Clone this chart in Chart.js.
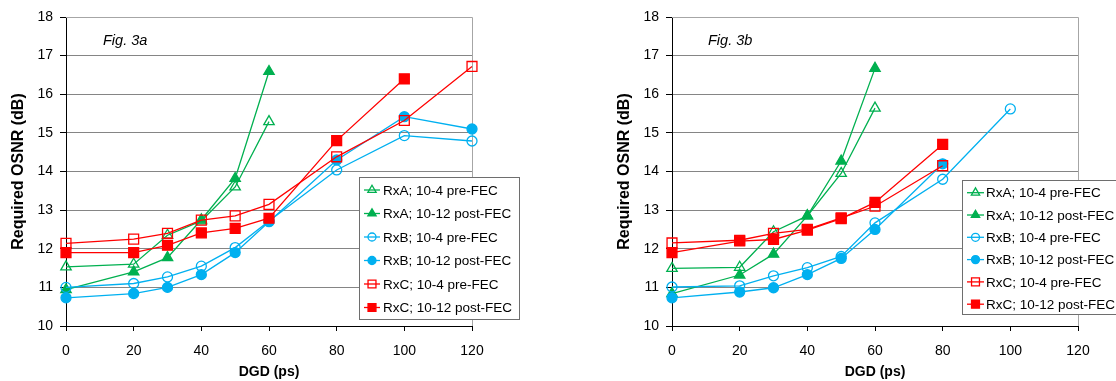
<!DOCTYPE html>
<html>
<head>
<meta charset="utf-8">
<script src="https://cdn.jsdelivr.net/npm/chart.js@4.4.0/dist/chart.umd.min.js"></script>
<style>
  body { margin: 0; background: #fff; width: 1116px; height: 381px; overflow: hidden; position: relative; }
  canvas { position: absolute; top: 0; }
  #chart3a { left: 0; }
  #chart3b { left: 590px; }
</style>
</head>
<body>
<canvas id="chart3a" width="560" height="381"></canvas>
<canvas id="chart3b" width="526" height="381"></canvas>
<script>
// DGD values (ps) where points were measured
const dgd = [0, 20, 30, 40, 50, 60, 80, 100, 120];

const seriesNames = [
    'RxA; 10-4 pre-FEC',
    'RxA; 10-12 post-FEC',
    'RxB; 10-4 pre-FEC',
    'RxB; 10-12 post-FEC',
    'RxC; 10-4 pre-FEC',
    'RxC; 10-12 post-FEC'
];

// Fig. 3a - required OSNR (dB)
const rxAPreA  = [11.53, 11.60, 12.35, 12.72, 13.60, 15.29, null, null, null];
const rxAPostA = [10.94, 11.40, 11.77, 12.75, 13.82, 16.59, null, null, null];
const rxBPreA  = [11.00, 11.10, 11.27, 11.55, 12.03, 12.72, 14.04, 14.93, 14.79];
const rxBPostA = [10.73, 10.84, 11.00, 11.33, 11.90, 12.70, 14.30, 15.42, 15.10];
const rxCPreA  = [12.14, 12.25, 12.40, 12.74, 12.85, 13.15, 14.38, 15.32, 16.72];
const rxCPostA = [11.90, 11.90, 12.09, 12.41, 12.53, 12.79, 14.80, 16.40, null];

// Fig. 3b - required OSNR (dB)
const rxAPreB  = [11.49, 11.52, 12.44, 12.85, 13.95, 15.64, null, null, null];
const rxAPostB = [10.84, 11.32, 11.86, 12.85, 14.27, 16.67, null, null, null];
const rxBPreB  = [11.01, 11.04, 11.30, 11.51, 11.80, 12.67, 13.80, 15.62, null];
const rxBPostB = [10.73, 10.88, 10.99, 11.33, 11.75, 12.50, 14.20, null, null];
const rxCPreB  = [12.15, 12.22, 12.40, 12.50, 12.80, 13.10, 14.15, null, null];
const rxCPostB = [11.90, 12.20, 12.24, 12.48, 12.78, 13.20, 14.70, null, null];

const FONT = "'Liberation Sans', Arial, sans-serif";
const colors  = ['#00B050', '#00B050', '#00B0F0', '#00B0F0', '#FF0000', '#FF0000'];
const markers = ['triangle', 'triangle', 'circle', 'circle', 'rect', 'rect'];
const filled  = [false, true, false, true, false, true];
const markerSize = { triangle: 6, circle: 5, rect: 7 };

function toPoints(values) {
    const pts = [];
    values.forEach((v, i) => {
        if (v !== null) pts.push({ x: dgd[i], y: v });
    });
    return pts;
}

function buildDatasets(seriesList) {
    return seriesList.map((values, i) => ({
        label: seriesNames[i],
        data: toPoints(values),
        borderColor: colors[i],
        backgroundColor: filled[i] ? colors[i] : 'rgba(0,0,0,0)',
        borderWidth: 1.3,
        pointStyle: markers[i],
        pointRadius: markerSize[markers[i]],
        pointBorderWidth: 1.3,
        tension: 0,
        clip: false,
        order: seriesList.length - i   // later series on top, like Excel
    }));
}

// draws a small marker, used by the legend
function drawMarker(ctx, style, x, y, r, color, fill) {
    ctx.beginPath();
    if (style === 'triangle') {
        ctx.moveTo(x, y - r);
        ctx.lineTo(x + r * 0.866, y + r * 0.5);
        ctx.lineTo(x - r * 0.866, y + r * 0.5);
        ctx.closePath();
    } else if (style === 'circle') {
        ctx.arc(x, y, r, 0, Math.PI * 2);
    } else {
        const s = r * Math.SQRT1_2;
        ctx.rect(x - s, y - s, 2 * s, 2 * s);
    }
    if (fill) {
        ctx.fillStyle = color;
        ctx.fill();
    }
    ctx.strokeStyle = color;
    ctx.lineWidth = 1.3;
    ctx.stroke();
}

const boxLegend = {
    id: 'boxLegend',
    afterDraw(chart, args, opts) {
        const ctx = chart.ctx;
        ctx.save();
        ctx.fillStyle = '#fff';
        ctx.fillRect(opts.x, opts.y, opts.w, opts.h);
        ctx.strokeStyle = '#6e6e6e';
        ctx.lineWidth = 1;
        ctx.strokeRect(opts.x + 0.5, opts.y + 0.5, opts.w, opts.h);
        ctx.font = `13.5px ${FONT}`;
        ctx.textBaseline = 'middle';
        chart.data.datasets.forEach((ds, i) => {
            const cy = opts.firstRow + i * opts.rowH;
            ctx.strokeStyle = colors[i];
            ctx.lineWidth = 1.3;
            ctx.beginPath();
            ctx.moveTo(opts.lineX0, cy);
            ctx.lineTo(opts.lineX1, cy);
            ctx.stroke();
            const mx = (opts.lineX0 + opts.lineX1) / 2;
            drawMarker(ctx, markers[i], mx, cy, markerSize[markers[i]] * 0.8, colors[i], filled[i]);
            ctx.fillStyle = '#000';
            ctx.fillText(ds.label, opts.textX, cy + 1);
        });
        ctx.restore();
    }
};

const plotFrame = {
    id: 'plotFrame',
    beforeDatasetsDraw(chart, args, opts) {
        const { left, right, top, bottom } = chart.chartArea;
        const ctx = chart.ctx;
        ctx.save();
        ctx.strokeStyle = '#a6a6a6';
        ctx.lineWidth = 1;
        ctx.beginPath();
        ctx.moveTo(left, top + 0.5);
        ctx.lineTo(right + 0.5, top + 0.5);
        ctx.lineTo(right + 0.5, bottom);
        ctx.stroke();
        ctx.font = `italic 14.5px ${FONT}`;
        ctx.fillStyle = '#000';
        ctx.textBaseline = 'middle';
        ctx.fillText(opts.text, left + opts.dx, top + 24);
        ctx.restore();
    }
};

function buildOptions(cfg) {
    return {
        responsive: false,
        animation: false,
        layout: { padding: { left: 0, top: 17, right: cfg.padRight, bottom: 0 } },
        plugins: {
            legend: { display: false },
            tooltip: { enabled: false },
            boxLegend: cfg.legend,
            plotFrame: { text: cfg.figText, dx: cfg.figDx }
        },
        scales: {
            x: {
                type: 'linear',
                min: 0,
                max: 120,
                ticks: { stepSize: 20, color: '#000', font: { family: FONT, size: 14 }, padding: 12 },
                grid: { drawOnChartArea: false, drawTicks: true, tickLength: 5, tickColor: '#000' },
                border: { color: '#000', width: 1 },
                title: {
                    display: true,
                    text: 'DGD (ps)',
                    color: '#000',
                    font: { family: FONT, size: 14, weight: 'bold' },
                    padding: { top: 0, bottom: 0 }
                },
                afterFit(scale) { scale.height = 55; }
            },
            y: {
                min: 10,
                max: 18,
                ticks: { stepSize: 1, color: '#000', font: { family: FONT, size: 14 }, padding: 7 },
                grid: { color: '#858585', tickLength: 6, tickColor: '#000' },
                border: { color: '#000', width: 1 },
                title: {
                    display: true,
                    text: 'Required OSNR (dB)',
                    color: '#000',
                    font: { family: FONT, size: 16, weight: 'bold' },
                    padding: { top: cfg.yTitlePad, bottom: 0 }
                },
                afterFit(scale) { scale.width = cfg.yWidth; }
            }
        }
    };
}

new Chart(document.getElementById('chart3a'), {
    type: 'line',
    data: { datasets: buildDatasets([rxAPreA, rxAPostA, rxBPreA, rxBPostA, rxCPreA, rxCPostA]) },
    options: buildOptions({
        padRight: 88, yWidth: 66, yTitlePad: 9, figText: 'Fig. 3a', figDx: 37,
        legend: { x: 359, y: 177, w: 160, h: 142, firstRow: 190, rowH: 23.5, lineX0: 364, lineX1: 380, textX: 383 }
    }),
    plugins: [boxLegend, plotFrame]
});

new Chart(document.getElementById('chart3b'), {
    type: 'line',
    data: { datasets: buildDatasets([rxAPreB, rxAPostB, rxBPreB, rxBPostB, rxCPreB, rxCPostB]) },
    options: buildOptions({
        padRight: 38, yWidth: 82, yTitlePad: 25, figText: 'Fig. 3b', figDx: 36,
        legend: { x: 372, y: 180, w: 200, h: 134, firstRow: 192.7, rowH: 22.3, lineX0: 377, lineX1: 394, textX: 396 }
    }),
    plugins: [boxLegend, plotFrame]
});
</script>
</body>
</html>
